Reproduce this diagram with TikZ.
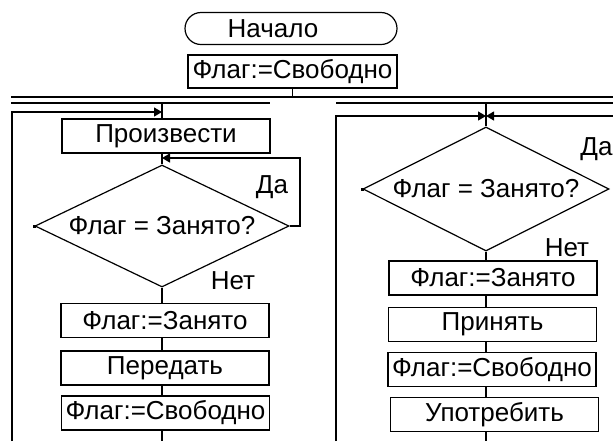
\documentclass[tikz,border=0pt]{standalone}
\usepackage{fontspec}
\setmainfont{Liberation Sans}
\usetikzlibrary{arrows.meta, shapes.geometric}
\tikzset{
  blk/.style={draw, rectangle, minimum width=104pt, minimum height=17pt, inner sep=0pt},
  term/.style={draw, rectangle, rounded corners=8pt, minimum width=106pt, minimum height=16pt, inner sep=0pt},
  cond/.style={draw, diamond, shape aspect=2, inner sep=0pt},
  lbl/.style={inner sep=0pt},
}

\begin{document}
\begin{tikzpicture}[x=0.5pt, y=-0.5pt, line width=0.6pt,
    >={Triangle[length=4pt,width=4.5pt]}, font=\fontsize{13}{15}\selectfont]
  \useasboundingbox (0,0) rectangle (613,441);
  \coordinate (foot) at (0,441);

  \node[term] (start) at (291,28.5) {Начало\hspace*{18pt}};
  \node[blk, minimum width=104.5pt, minimum height=16.5pt] (init) at (292.5,71.5) {Флаг:=Свободно};

  % parallel bar
  \coordinate (barTL) at (11,97);
  \coordinate (barTR) at (613,97);
  \coordinate (barBL) at (11,103);
  \coordinate (barBM) at (270,103);
  \coordinate (barBN) at (336,103);
  \coordinate (barBR) at (613,103);
  \draw (barTL) -- (barTR);
  \draw (barBL) -- (barBM);
  \draw (barBN) -- (barBR);
  \draw (init.south) -- (init.south |- barTL);

  % producer
  \node[blk] (prod) at (166,136) {Произвести};
  \node[cond, minimum width=127pt, minimum height=61pt] (d1) at (162,226) {Флаг = Занято?};
  \node[blk] (busy1) at (165,320.5) {Флаг:=Занято};
  \node[blk] (send) at (165,368) {Передать};
  \node[blk] (free1) at (165.5,413) {Флаг:=Свободно};
  \draw (barBL -| d1) -- (prod.north -| d1);
  \draw (prod.south -| d1) -- (d1.north);
  \draw (d1.south) -- (busy1.north -| d1);
  \foreach \a/\b in {busy1/send, send/free1}
    \draw (\a.south -| d1) -- (\b.north -| d1);
  \draw (free1.south -| d1) -- (d1 |- foot);
  \coordinate (loopL) at (12,112);
  \draw[->] (loopL |- foot) -- (loopL) -- (loopL -| d1);
  \coordinate (yes1) at (300,158);
  \draw[->] (d1.east) -| (yes1) -- (yes1 -| d1);
  \fill (d1.west) +(-1.5,-1.5) rectangle +(1.5,1.5);
  \node[lbl] (yes1l) at (272,187) {Да};
  \node[lbl] (no1l) at (233,281) {Нет};

  % consumer
  \node[cond, minimum width=123pt, minimum height=62pt] (d2) at (486,189) {Флаг = Занято?};
  \node[blk] (busy2) at (493,278) {Флаг:=Занято};
  \node[blk] (take) at (492.5,324.5) {Принять};
  \node[blk] (free2) at (492,369.7) {Флаг:=Свободно};
  \node[blk] (eat) at (494.5,414.5) {Употребить};
  \draw (barBN -| d2) -- (d2.north);
  \draw (d2.south) -- (busy2.north -| d2);
  \foreach \a/\b in {busy2/take, take/free2, free2/eat}
    \draw (\a.south -| d2) -- (\b.north -| d2);
  \draw (eat.south -| d2) -- (d2 |- foot);
  \coordinate (loopR) at (336,116);
  \draw[->] (loopR |- foot) -- (loopR) -- (loopR -| d2);
  \coordinate (yes2) at (613,116);
  \draw[->] (yes2) -- (yes2 -| d2);
  \fill (d2.west) +(-1.5,-1.5) rectangle +(1.5,1.5);
  \node[lbl] (yes2l) at (596.5,149) {Да};
  \node[lbl] (no2l) at (567,248) {Нет};
\end{tikzpicture}
\end{document}
